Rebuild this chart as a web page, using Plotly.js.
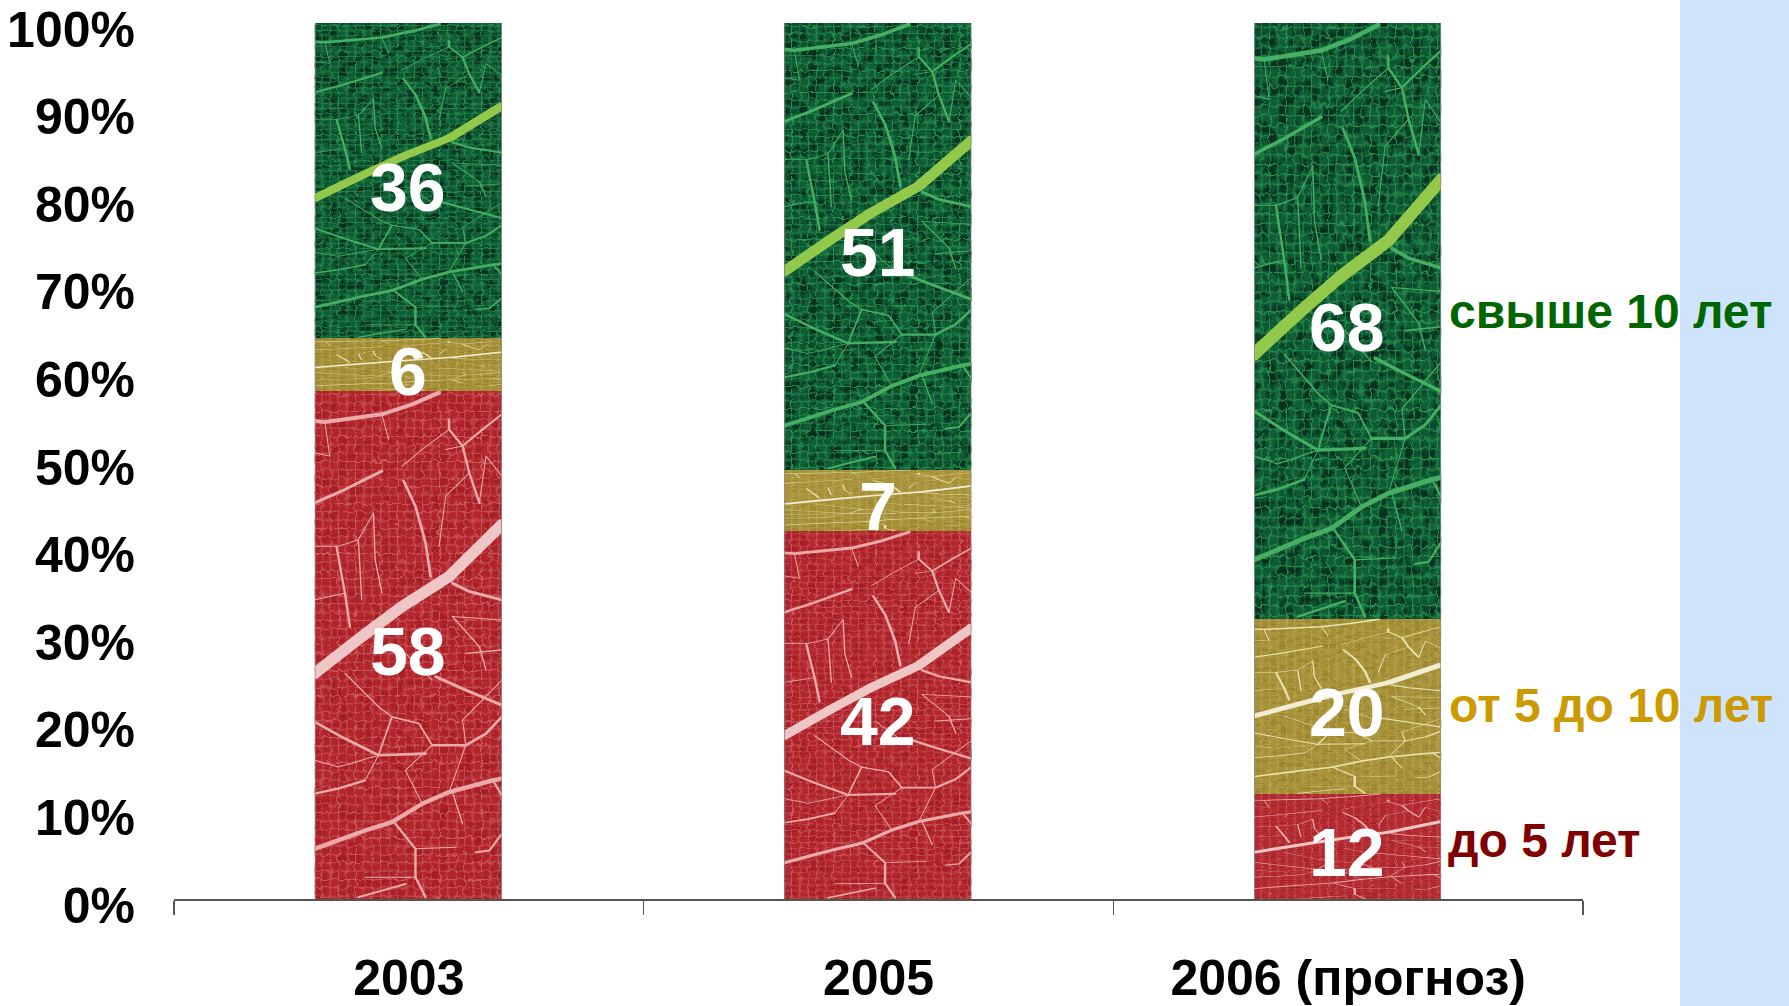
<!DOCTYPE html>
<html>
<head>
<meta charset="utf-8">
<script src="https://cdn.plot.ly/plotly-3.0.1.min.js"></script>
<style>html,body{margin:0;padding:0;background:#fff}#chart{width:1789px;height:1006px}</style>
</head>
<body>
<div id="chart"></div>
<script>
const categories = ['2003', '2005', '2006 (прогноз)'];
const seriesNames = ['до 5 лет', 'от 5 до 10 лет', 'свыше 10 лет'];
const under5 = [58, 42, 12];
const from5to10 = [6, 7, 20];
const over10 = [36, 51, 68];
const yTicks = [0, 10, 20, 30, 40, 50, 60, 70, 80, 90, 100];
const seriesValues = [under5, from5to10, over10];

const baseColors = ['#b3262c', '#a8923a', '#0f5c35'];
const netColors = ['#c9585c', '#bba850', '#279050'];
const darkColors = ['#a61e24', '#98842e', '#07301e'];
const veinColors = ['#e9aaa9', '#ebe2ae', '#45b062'];
const mainColors = ['#eec6c6', '#f2edd2', '#93c94c'];
const labelColors = ['#800000', '#cc9900', '#006600'];
const labelShifts = [6, 1, 9];

/* Decorative leaf texture; the same leaf is stretched to fill every bar segment. */
const leafVeins = [
  [34, 'M30,860 L170,750 290,660 430,570 587,415', 'main'],
  [12, 'M30,105 L60,108 230,85 320,55 400,20'],
  [9, 'M30,350 L120,310 230,255'],
  [8, 'M295,285 L330,360 360,470 375,570'],
  [7, 'M430,100 L430,130 470,180 490,260 520,350'],
  [6, 'M470,180 L530,130 587,85'],
  [7, 'M95,480 L120,620 135,720'],
  [9, 'M440,590 L490,615 587,640'],
  [9, 'M390,870 L480,910 587,955'],
  [8, 'M30,1005 L120,1055 220,1105 360,1100'],
  [8, 'M380,1075 L480,1075 540,1040 587,990'],
  [13, 'M30,1385 L180,1330 260,1305 350,1250 430,1215 560,1180 587,1175'],
  [7, 'M270,1310 L330,1385 330,1470 360,1530'],
  [7, 'M30,1220 L100,1205 180,1180'],
  [5, 'M220,1105 L260,990 340,1010 380,1075'],
  [4, 'M120,860 L220,960 260,990'],
  [4, 'M440,1215 L470,1310'],
  [6, 'M510,1395 L550,1390 587,1340'],
  [6, 'M560,1180 L587,1225'],
  [6, 'M160,1530 L230,1510 300,1490'],
  [3, 'M330,1385 L450,1380'],
  [4, 'M205,380 L210,520 230,620'],
  [4, 'M160,460 L170,640'],
  [4, 'M480,800 L587,790'],
  [4, 'M440,690 L520,780 540,850'],
  [3, 'M30,200 L75,210 M60,108 L75,210 M230,85 L250,160'],
  [3, 'M430,130 L350,190 L290,240 M470,180 L420,190'],
  [3, 'M490,260 L420,330 L400,480 M520,350 L540,210 L587,270'],
  [3, 'M100,480 L160,460 L205,380 M30,480 L95,480 M30,640 L120,620'],
  [3, 'M440,690 L587,700 M380,880 L300,800 M30,1120 L100,1140 L220,1105'],
  [3, 'M480,1075 L470,1000 L587,880 M220,1105 L180,1180'],
  [3, 'M350,1250 L300,1150 L380,1075 M430,1215 L480,1075 M330,1470 L180,1470']
];

function hexRgb(h) {
  return [1, 3, 5].map(i => (parseInt(h.substr(i, 2), 16) / 255).toFixed(3));
}
function leafImage(s) {
  const d = hexRgb(darkColors[s]);
  const paths = leafVeins.map(v =>
    `<path d="${v[1]}" fill="none" stroke="${v[2] ? mainColors[s] : veinColors[s]}" stroke-width="${v[0]}" stroke-linejoin="round" stroke-linecap="round"/>`
  ).join('');
  const svg = `<svg xmlns="http://www.w3.org/2000/svg" width="372" height="1016" viewBox="30 15 557 1520" preserveAspectRatio="none">
<defs>
<pattern id="grid" width="25" height="25" patternUnits="userSpaceOnUse"><path d="M0,0H25M0,0V25" stroke="${netColors[s]}" stroke-width="6" fill="none"/></pattern>
<filter id="wob" x="0" y="0" width="1" height="1" color-interpolation-filters="sRGB"><feTurbulence type="fractalNoise" baseFrequency="0.04" numOctaves="2" seed="3" result="t"/><feDisplacementMap in="SourceGraphic" in2="t" scale="22" xChannelSelector="R" yChannelSelector="G"/><feGaussianBlur stdDeviation="2"/></filter>
<filter id="dark" x="0" y="0" width="1" height="1" color-interpolation-filters="sRGB"><feTurbulence type="fractalNoise" baseFrequency="0.03" numOctaves="3" seed="9"/><feColorMatrix type="matrix" values="0 0 0 0 ${d[0]} 0 0 0 0 ${d[1]} 0 0 0 0 ${d[2]} 4 0 0 0 -1.7"/></filter>
<filter id="soft" x="-5%" y="-5%" width="110%" height="110%"><feGaussianBlur stdDeviation="1.8"/></filter>
</defs>
<rect x="0" y="-20" width="620" height="1580" filter="url(#dark)"/>
<rect x="0" y="-20" width="620" height="1580" fill="url(#grid)" filter="url(#wob)"/>
<g filter="url(#soft)">${paths}</g>
<path d="M31,15V1535M586,15V1535" stroke="#8f8f8f" stroke-width="3" fill="none"/>
</svg>`;
  return 'data:image/svg+xml,' + encodeURIComponent(svg);
}

const barWidth = 0.3985;
const barOffset = -0.2005;
const traces = seriesNames.map((name, s) => ({
  type: 'bar',
  name: name,
  x: categories,
  y: seriesValues[s],
  width: barWidth,
  offset: barOffset,
  marker: { color: baseColors[s], line: { width: 0 } },
  hoverinfo: 'x+y+name'
}));

const images = [];
const annotations = [];
const valueFont = { family: 'Liberation Sans, Arial, sans-serif', size: 68, color: '#ffffff', weight: 700 };
categories.forEach((c, i) => {
  let base = 0;
  seriesValues.forEach((vals, s) => {
    const v = vals[i];
    images.push({
      source: leafImage(s), xref: 'x', yref: 'y',
      x: i + barOffset, y: base + v, sizex: barWidth, sizey: v,
      xanchor: 'left', yanchor: 'top', sizing: 'stretch', layer: 'above'
    });
    annotations.push({
      x: i, y: base + v / 2, xref: 'x', yref: 'y', text: String(v), showarrow: false,
      font: valueFont, yshift: -6, xshift: -1, xanchor: 'center', yanchor: 'middle'
    });
    if (i === categories.length - 1) {
      annotations.push({
        x: i + 0.198, y: base + v / 2, xref: 'x', yref: 'y', text: seriesNames[s], showarrow: false,
        xanchor: 'left', yanchor: 'middle', xshift: s === 0 ? 5 : 6, yshift: labelShifts[s],
        font: { family: 'Liberation Sans, Arial, sans-serif', size: 48, color: labelColors[s], weight: 700 }
      });
    }
    base += v;
  });
});

const layout = {
  width: 1789, height: 1006,
  margin: { l: 173.5, r: 206, t: 23, b: 107, pad: 0 },
  paper_bgcolor: '#ffffff', plot_bgcolor: '#ffffff',
  barmode: 'stack', showlegend: false,
  xaxis: {
    type: 'category', categoryorder: 'array', categoryarray: categories, range: [-0.5, 2.5],
    tickson: 'boundaries', ticks: 'outside', ticklen: 14, tickwidth: 1.5, tickcolor: '#555555',
    showline: true, linecolor: '#555555', linewidth: 1.5, showgrid: false, zeroline: false,
    ticklabelstandoff: 34,
    tickfont: { family: 'Liberation Sans, Arial, sans-serif', size: 50, color: '#000000', weight: 700 }
  },
  yaxis: {
    range: [0, 100], tickmode: 'array', tickvals: yTicks, ticktext: yTicks.map(t => t + '%'),
    showgrid: false, zeroline: false, showline: false, ticks: '', ticklabelstandoff: 38, ticklabelshift: 6,
    tickfont: { family: 'Liberation Sans, Arial, sans-serif', size: 50, color: '#000000', weight: 700 }
  },
  shapes: [{
    type: 'rect', xref: 'paper', yref: 'paper', x0: 1.0688, x1: 1.15, y0: -0.2, y1: 1.1,
    fillcolor: '#cde4fc', line: { width: 0 }, layer: 'below'
  }],
  images: images,
  annotations: annotations
};

Plotly.newPlot('chart', traces, layout, { displayModeBar: false, staticPlot: true });
</script>
</body>
</html>
